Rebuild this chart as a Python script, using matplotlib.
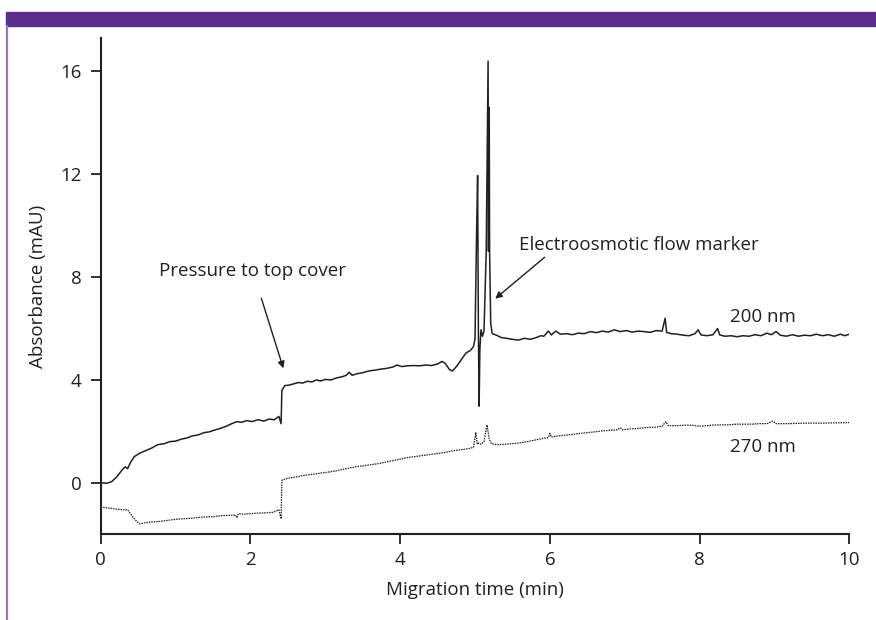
import numpy as np
import matplotlib.pyplot as plt
from matplotlib.patches import Rectangle
from matplotlib.lines import Line2D

# --- data ---
t_200 = [0.00, 0.08, 0.15, 0.22, 0.30, 0.33, 0.36, 0.40, 0.45, 0.52, 0.60, 0.68, 0.76,
         0.85, 0.92, 1.00, 1.08, 1.15, 1.22, 1.30, 1.38, 1.45, 1.52, 1.60, 1.68, 1.75,
         1.82, 1.88, 1.95, 2.02, 2.10, 2.18, 2.25, 2.32, 2.38, 2.40, 2.41, 2.42, 2.46,
         2.52, 2.58, 2.64, 2.70, 2.76, 2.82, 2.88, 2.94, 3.00, 3.08, 3.15, 3.22, 3.28,
         3.32, 3.36, 3.42, 3.50, 3.58, 3.66, 3.74, 3.82, 3.90, 3.96, 4.02, 4.10, 4.18,
         4.26, 4.34, 4.42, 4.50, 4.56, 4.60, 4.66, 4.70, 4.76, 4.82, 4.88, 4.94, 4.98,
         5.00, 5.02, 5.035, 5.045, 5.055, 5.065, 5.08, 5.10, 5.12, 5.15, 5.175, 5.18,
         5.19, 5.195, 5.21, 5.23, 5.28, 5.35, 5.42, 5.50, 5.58, 5.66, 5.74, 5.82, 5.88,
         5.92, 5.98, 6.02, 6.08, 6.14, 6.22, 6.30, 6.38, 6.46, 6.54, 6.62, 6.70, 6.78,
         6.86, 6.94, 7.02, 7.10, 7.18, 7.26, 7.34, 7.42, 7.50, 7.54, 7.56, 7.62, 7.70,
         7.78, 7.86, 7.94, 7.98, 8.02, 8.10, 8.18, 8.24, 8.27, 8.34, 8.42, 8.50, 8.58,
         8.66, 8.74, 8.82, 8.90, 8.96, 9.02, 9.08, 9.16, 9.24, 9.32, 9.40, 9.48, 9.56,
         9.64, 9.72, 9.80, 9.88, 9.94, 10.00]
a_200 = [0.00, -0.02, 0.05, 0.25, 0.55, 0.62, 0.55, 0.80, 1.02, 1.15, 1.25, 1.35, 1.48,
         1.52, 1.60, 1.62, 1.70, 1.74, 1.82, 1.86, 1.95, 1.98, 2.05, 2.12, 2.20, 2.30,
         2.38, 2.35, 2.42, 2.38, 2.45, 2.40, 2.48, 2.45, 2.58, 2.40, 2.30, 3.60, 3.78,
         3.80, 3.85, 3.90, 3.88, 3.95, 3.92, 4.00, 3.96, 4.02, 4.00, 4.08, 4.12, 4.18,
         4.30, 4.18, 4.24, 4.28, 4.35, 4.38, 4.42, 4.45, 4.50, 4.58, 4.52, 4.55, 4.56,
         4.55, 4.58, 4.56, 4.62, 4.72, 4.65, 4.40, 4.35, 4.55, 4.80, 5.05, 5.15, 5.30,
         5.60, 9.50, 11.95, 6.00, 2.98, 5.20, 5.95, 5.70, 5.90, 9.00, 16.40, 9.00,
         14.60, 9.00, 6.20, 5.80, 5.75, 5.65, 5.62, 5.58, 5.55, 5.62, 5.58, 5.65, 5.72,
         5.70, 5.90, 5.75, 5.90, 5.78, 5.80, 5.76, 5.82, 5.80, 5.88, 5.84, 5.90, 5.86,
         5.95, 5.88, 5.92, 5.86, 5.90, 5.88, 5.85, 5.92, 5.90, 6.40, 5.85, 5.80, 5.78,
         5.74, 5.72, 5.80, 5.95, 5.75, 5.72, 5.76, 6.00, 5.75, 5.70, 5.72, 5.68, 5.72,
         5.70, 5.76, 5.72, 5.82, 5.76, 5.88, 5.74, 5.70, 5.76, 5.70, 5.74, 5.72, 5.78,
         5.72, 5.76, 5.70, 5.78, 5.72, 5.78]

t_270 = [0.00, 0.10, 0.20, 0.30, 0.36, 0.42, 0.48, 0.52, 0.60, 0.70, 0.80, 0.90, 1.00,
         1.10, 1.20, 1.30, 1.40, 1.50, 1.60, 1.70, 1.80, 1.82, 1.84, 1.90, 2.00, 2.10,
         2.20, 2.30, 2.38, 2.41, 2.42, 2.50, 2.60, 2.70, 2.80, 2.90, 3.00, 3.10, 3.20,
         3.30, 3.40, 3.50, 3.60, 3.70, 3.80, 3.90, 4.00, 4.10, 4.20, 4.30, 4.40, 4.50,
         4.60, 4.70, 4.80, 4.90, 4.98, 5.01, 5.03, 5.05, 5.08, 5.12, 5.16, 5.19, 5.22,
         5.30, 5.40, 5.50, 5.60, 5.70, 5.80, 5.90, 5.98, 6.00, 6.02, 6.10, 6.20, 6.30,
         6.40, 6.50, 6.60, 6.70, 6.80, 6.90, 6.94, 6.97, 7.10, 7.20, 7.30, 7.40, 7.50,
         7.55, 7.58, 7.70, 7.80, 7.90, 8.00, 8.10, 8.20, 8.30, 8.40, 8.50, 8.60, 8.70,
         8.80, 8.90, 8.98, 9.02, 9.20, 9.40, 9.60, 9.80, 10.00]
a_270 = [-0.95, -0.98, -1.02, -1.05, -1.05, -1.30, -1.50, -1.60, -1.55, -1.52, -1.50,
         -1.46, -1.42, -1.40, -1.38, -1.35, -1.33, -1.32, -1.28, -1.27, -1.25, -1.35,
         -1.20, -1.22, -1.20, -1.18, -1.17, -1.15, -1.05, -1.40, 0.10, 0.18, 0.22, 0.28,
         0.32, 0.36, 0.40, 0.44, 0.50, 0.56, 0.62, 0.66, 0.70, 0.74, 0.80, 0.86, 0.92,
         0.98, 1.02, 1.06, 1.10, 1.14, 1.18, 1.24, 1.28, 1.32, 1.38, 1.95, 1.50, 1.55,
         1.50, 1.60, 2.25, 1.70, 1.52, 1.48, 1.50, 1.52, 1.55, 1.60, 1.66, 1.72, 1.76,
         1.92, 1.78, 1.82, 1.85, 1.88, 1.92, 1.95, 1.98, 2.02, 2.04, 2.06, 2.14, 2.06,
         2.10, 2.12, 2.15, 2.16, 2.20, 2.38, 2.22, 2.22, 2.24, 2.24, 2.20, 2.22, 2.25,
         2.25, 2.26, 2.28, 2.28, 2.28, 2.30, 2.30, 2.40, 2.30, 2.30, 2.32, 2.32, 2.33,
         2.34]

x_ticks = [0, 2, 4, 6, 8, 10]
y_ticks = [0, 4, 8, 12, 16]

INK = '#231f20'
plt.rcParams['font.family'] = ['Open Sans', 'DejaVu Sans']

fig = plt.figure(figsize=(8.76, 6.2), dpi=100, facecolor='white')

# purple header band and left rule
fig.patches.append(Rectangle((6 / 876, 1 - 26 / 620), 1, 14 / 620,
                             transform=fig.transFigure, color='#5b2d8e', zorder=0))
fig.lines.append(Line2D([7 / 876, 7 / 876], [0, 1 - 26 / 620],
                        transform=fig.transFigure, color='#9579c0', lw=1.6))

ax = fig.add_axes([100.7 / 876, (620 - 534.2) / 620,
                   (849.3 - 100.7) / 876, (534.2 - 38) / 620])

ax.plot(t_200, a_200, color=INK, lw=1.1)
ax.plot(t_270, a_270, color=INK, lw=0.9, linestyle=(0, (1.2, 0.8)))

ax.set_xlim(0, 10)
ax.set_ylim(-2, 17.3)
ax.set_xticks(x_ticks)
ax.set_yticks(y_ticks)

for s in ['top', 'right']:
    ax.spines[s].set_visible(False)
for s in ['left', 'bottom']:
    ax.spines[s].set_linewidth(1.5)
    ax.spines[s].set_color(INK)
ax.tick_params(direction='out', length=7, width=1.3, colors=INK,
               labelsize=13.5, labelcolor=INK)
ax.tick_params(axis='x', pad=5)
ax.tick_params(axis='y', pad=7)

ax.set_xlabel('Migration time (min)', fontsize=13.5, color=INK, labelpad=9)
ax.set_ylabel('Absorbance (mAU)', fontsize=13.5, color=INK, labelpad=9)

# annotations
ax.annotate('Pressure to top cover', xy=(2.44, 4.45), xytext=(2.03, 8.25),
            fontsize=13.5, color=INK, ha='center', va='center',
            arrowprops=dict(arrowstyle='-|>', color=INK, lw=1.0,
                            shrinkA=12, shrinkB=0, mutation_scale=10))
ax.annotate('Electroosmotic flow marker', xy=(5.27, 7.16), xytext=(5.59, 9.23),
            fontsize=13.5, color=INK, ha='left', va='center',
            arrowprops=dict(arrowstyle='-|>', color=INK, lw=1.0,
                            shrinkA=0, shrinkB=0, mutation_scale=10,
                            relpos=(0.12, 0.0)))
ax.text(8.85, 6.46, '200 nm', fontsize=13.5, color=INK, ha='center', va='center')
ax.text(8.85, 1.41, '270 nm', fontsize=13.5, color=INK, ha='center', va='center')

fig.savefig('out.png', dpi=100, facecolor='white')
